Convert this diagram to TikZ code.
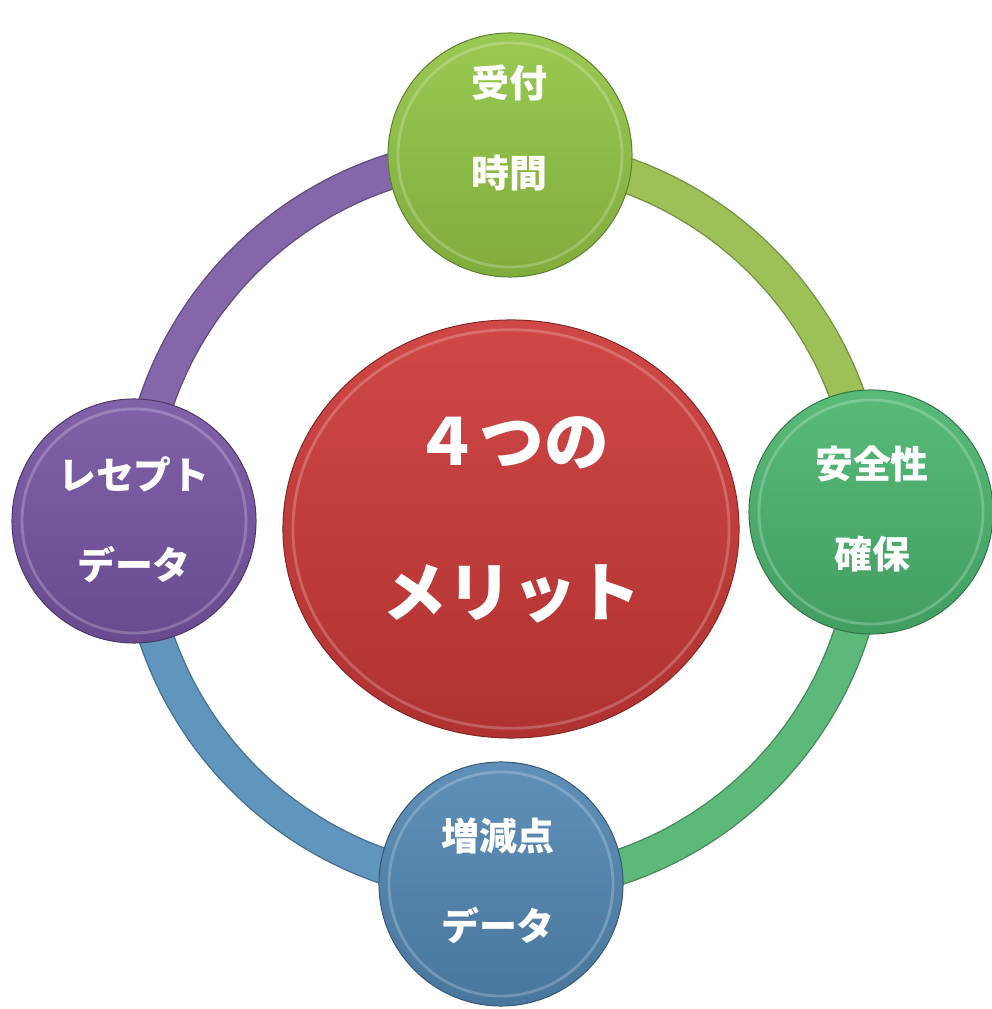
\documentclass[tikz,border=0pt]{standalone}
\usepackage{fontspec}
\usepackage{tikz}
\usetikzlibrary{shapes.geometric}
\newfontfamily\jp{Noto Sans CJK JP}
\definecolor{ringpurple}{RGB}{133,102,170}
\definecolor{ringolive}{RGB}{157,193,87}
\definecolor{ringgreen}{RGB}{93,185,122}
\definecolor{ringblue}{RGB}{96,150,190}
\definecolor{meritred}{RGB}{204,58,56}
\definecolor{timegreen}{RGB}{145,196,68}
\definecolor{safegreen}{RGB}{74,180,110}
\definecolor{pointblue}{RGB}{82,134,178}
\definecolor{dataviolet}{RGB}{118,84,162}

\begin{document}
\begin{tikzpicture}[x=0.025cm, y=0.025cm]
            \tikzstyle{bead}=[circle, minimum size=6.1cm, inner sep=0pt, line width=0.7pt]
            \tikzstyle{beadtext}=[text=white, align=center, font=\jp\bfseries\fontsize{27}{64}\selectfont]
            \useasboundingbox (0,0) rectangle (992,1009);
            \coordinate (hub) at (503,489);

            % ring
            \foreach \a/\c in {0/ringolive, 90/ringpurple, 180/ringblue, 270/ringgreen} {
              \draw[\c!75!black, line width=0.9cm] (hub) ++(\a:9.15cm) arc (\a:\a+90:9.15cm);
              \draw[\c, line width=0.83cm] (hub) ++(\a:9.15cm) arc (\a:\a+90:9.15cm);
            }

            \node[ellipse, minimum width=11.4cm, minimum height=10.45cm, draw=meritred!65!black, line width=0.7pt,
                  top color=meritred!93!white, bottom color=meritred!86!black] (merit) at (511,480) {};
            \node[bead, draw=timegreen!65!black, top color=timegreen!92!white, bottom color=timegreen!88!black] (time) at (510,854) {};
            \node[bead, draw=safegreen!65!black, top color=safegreen!92!white, bottom color=safegreen!88!black] (safe) at (871,497) {};
            \node[bead, draw=pointblue!65!black, top color=pointblue!92!white, bottom color=pointblue!88!black] (point) at (501,125) {};
            \node[bead, draw=dataviolet!65!black, top color=dataviolet!92!white, bottom color=dataviolet!88!black] (recept) at (134,488) {};

            % bevel
            \foreach \n in {time, safe, point, recept}
              \draw[white, opacity=0.22, line width=2pt] (\n.center) circle (2.8cm);
            \draw[white, opacity=0.22, line width=2pt] (merit.center) ellipse (5.45cm and 4.98cm);

            \node[beadtext] (timetext) at (509,881) {受付\\時間};
            \node[beadtext] (safetext) at (872,500) {安全性\\確保};
            \node[beadtext] (pointtext) at (498,128) {増減点\\データ};
            \node[beadtext] (recepttext) at (134,489) {レセプト\\データ};
            \node[beadtext, font=\jp\bfseries\fontsize{46}{107}\selectfont] (merittext) at (512,489) {４つの\\メリット};
        \end{tikzpicture}
\end{document}
